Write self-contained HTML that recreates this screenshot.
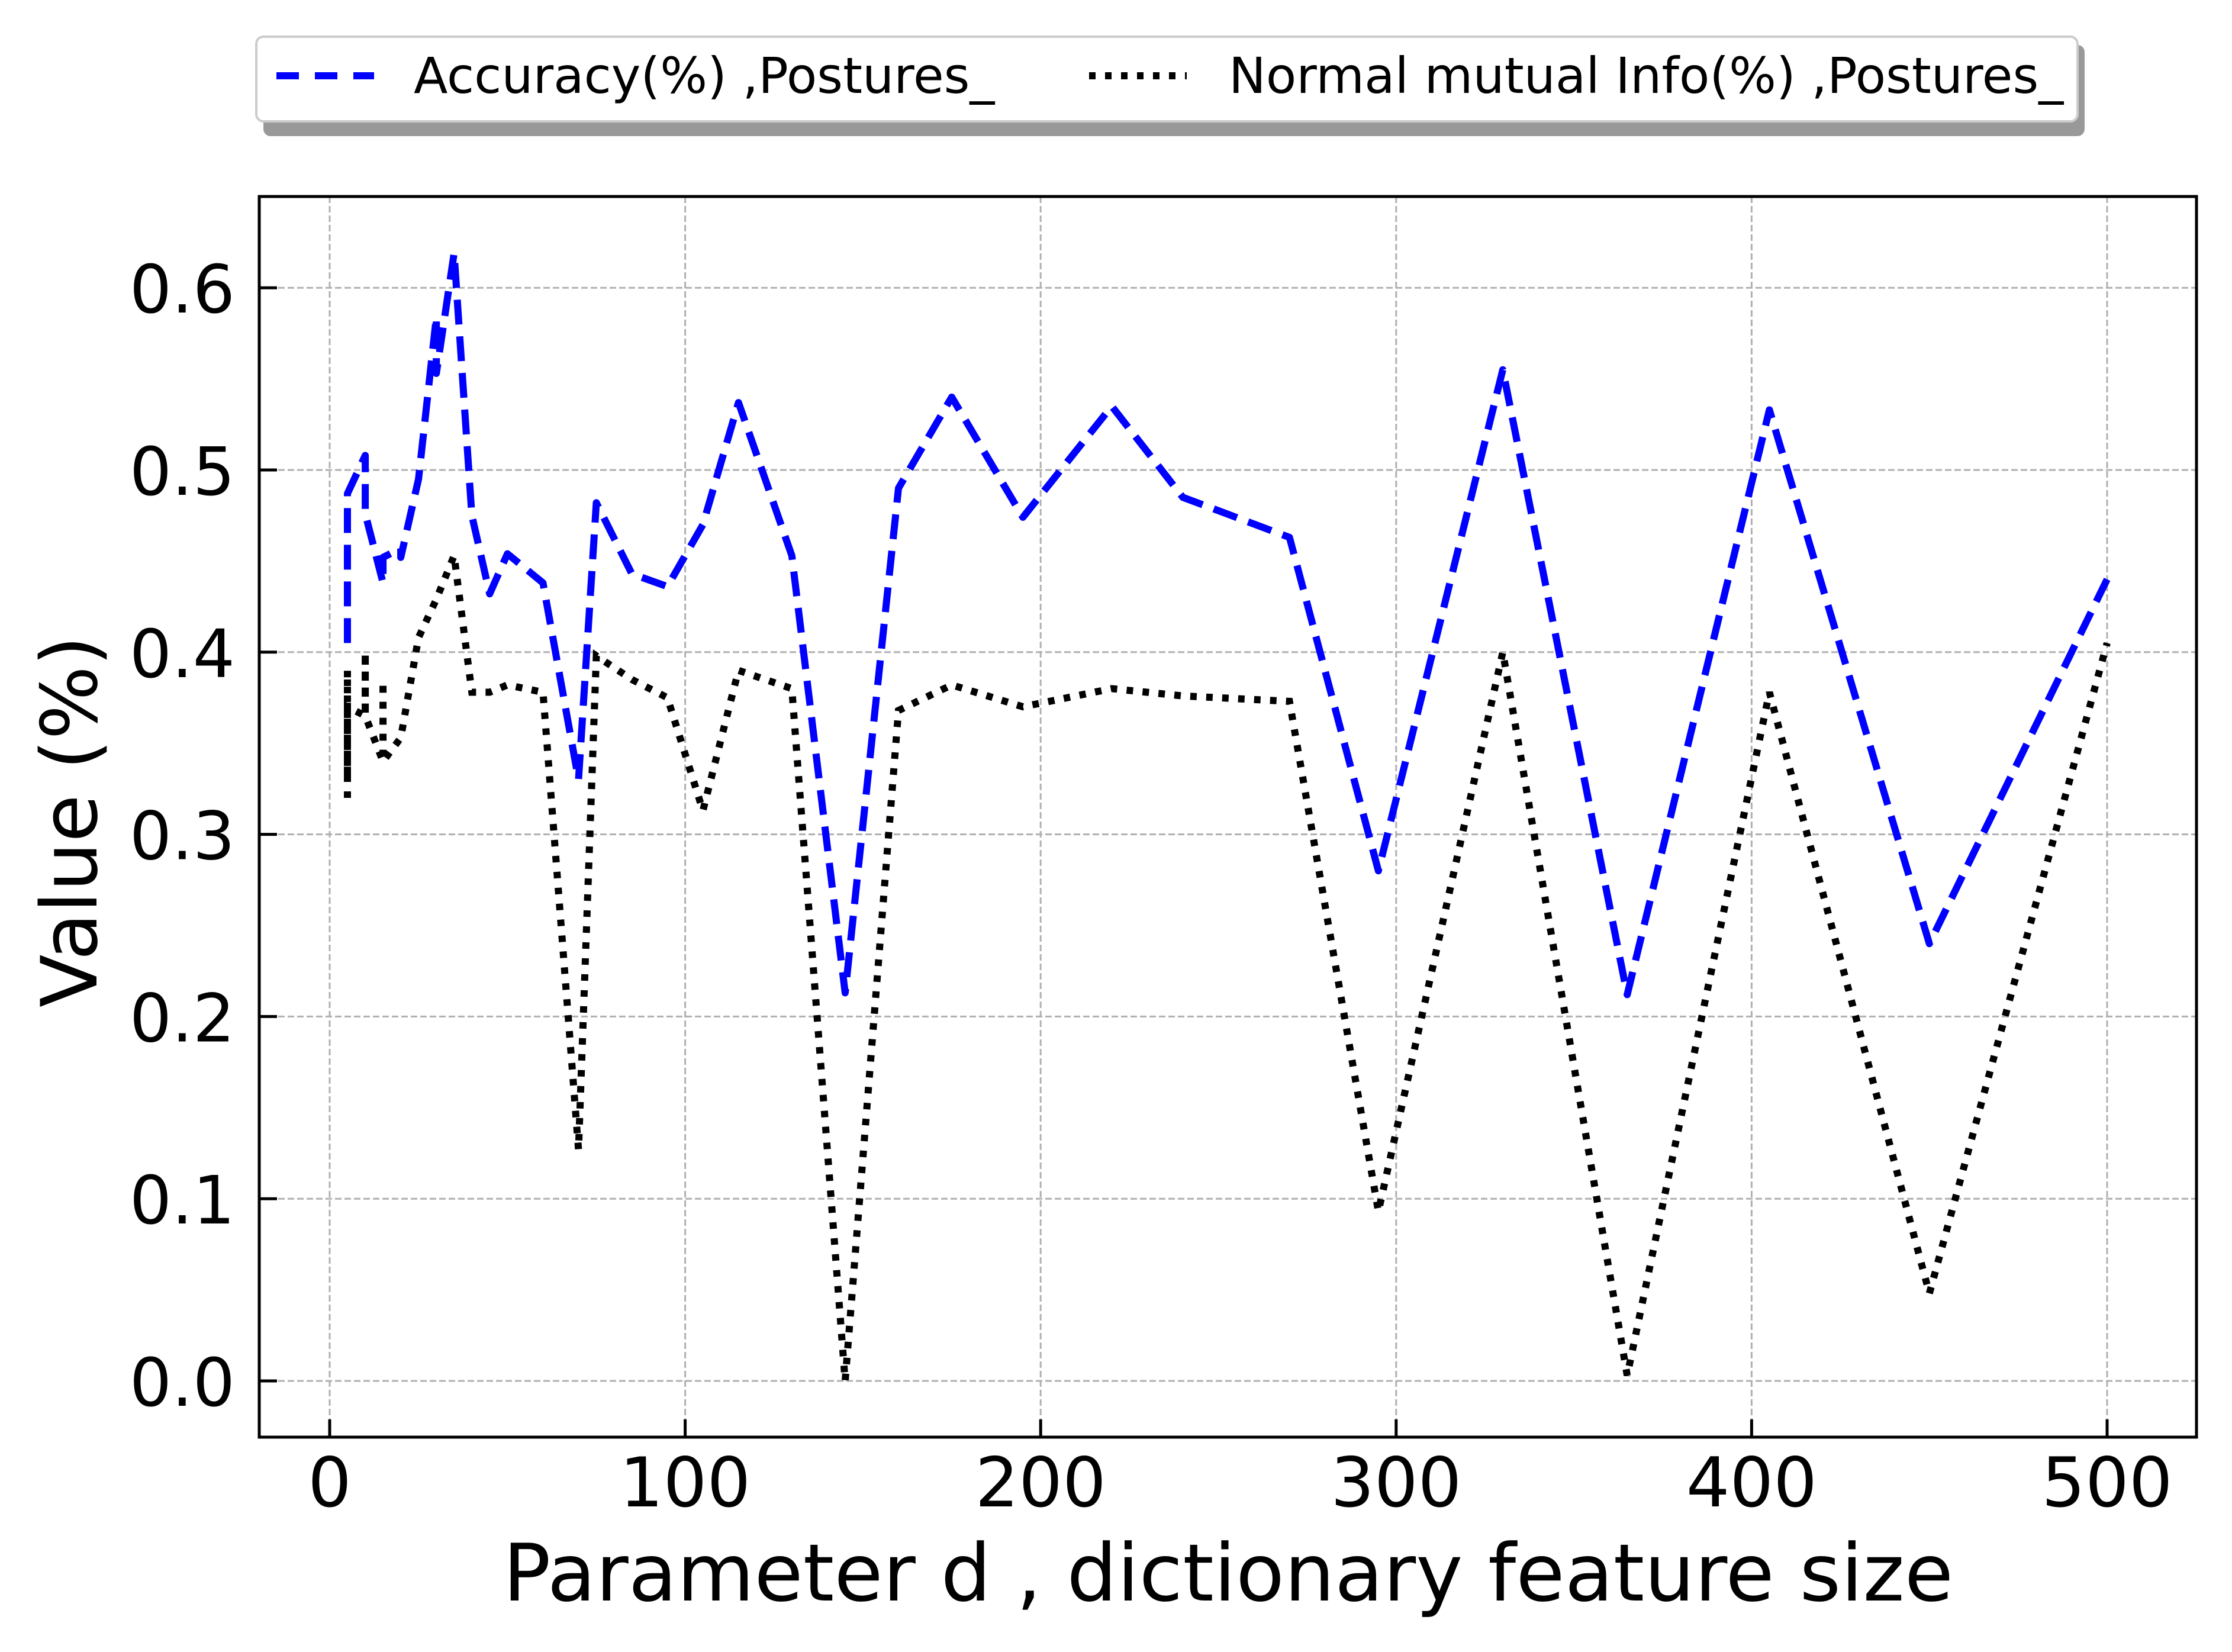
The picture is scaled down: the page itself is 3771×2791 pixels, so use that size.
<!DOCTYPE html>
<html><head><meta charset="utf-8"><style>
html,body{margin:0;padding:0;background:#fff;}
svg{display:block;font-family:"DejaVu Sans","Liberation Sans",sans-serif;}
</style></head><body>
<svg id="chart" width="3771" height="2791" viewBox="0 0 3771 2791" xmlns="http://www.w3.org/2000/svg">
<rect width="3771" height="2791" fill="#fff"/>
<g id="grid"></g>
<g id="series"></g>
<rect x="438" y="332" width="3273" height="2096" fill="none" stroke="#000" stroke-width="5"/>
<g id="ticks"></g>
<text x="2075" y="2704" font-size="134" text-anchor="middle">Parameter d , dictionary feature size</text>
<text transform="translate(163,1388) rotate(-90)" font-size="131" text-anchor="middle">Value (%)</text>
<g>
<rect x="445" y="76" width="3077" height="154" rx="12" fill="#999"/>
<rect x="433" y="62" width="3077" height="143" rx="12" fill="#fff" stroke="#ccc" stroke-width="4"/>
<line x1="467" y1="128" x2="632" y2="128" stroke="#0000ff" stroke-width="12" stroke-dasharray="38,27"/>
<text x="699" y="157" font-size="84">Accuracy(%) ,Postures_</text>
<line x1="1840" y1="128" x2="2005" y2="128" stroke="#000" stroke-width="12" stroke-dasharray="11,16"/>
<text x="2076" y="157" font-size="84">Normal mutual Info(%) ,Postures_</text>
</g>
</svg>
<script>
const accX = [5,5,10,10,15,15,20,20,25,30,30,35,40,45,50,60,70,75,85,95,105,115,130,145,160,175,195,220,240,270,295,330,365,405,450,500];
const accY = [0.405,0.487,0.508,0.476,0.438,0.452,0.457,0.452,0.495,0.584,0.553,0.619,0.475,0.432,0.454,0.438,0.33,0.482,0.443,0.436,0.47,0.537,0.453,0.213,0.49,0.54,0.474,0.535,0.485,0.463,0.28,0.555,0.212,0.533,0.24,0.44];
const nmiX = [5,5,5,5,10,10,10,15,15,15,20,25,30,35,40,45,50,60,70,75,85,95,105,115,130,145,160,175,195,220,240,270,295,330,365,405,450,500];
const nmiY = [0.32,0.39,0.33,0.37,0.365,0.40,0.365,0.34,0.384,0.34,0.353,0.408,0.429,0.453,0.378,0.378,0.382,0.378,0.127,0.398,0.385,0.375,0.313,0.39,0.38,0.0,0.368,0.382,0.37,0.38,0.376,0.373,0.093,0.40,0.003,0.378,0.048,0.405];
const xTicks = [0,100,200,300,400,500];
const yTicks = [0.0,0.1,0.2,0.3,0.4,0.5,0.6];
const yTickLabels = ["0.0","0.1","0.2","0.3","0.4","0.5","0.6"];

const NS = "http://www.w3.org/2000/svg";
const L = 438, R = 3711, T = 332, B = 2428;
function sx(v){ return 557 + v * 6.006; }
function sy(v){ return 2333 - v * 3078; }
function mk(tag, attrs, parent){
  const e = document.createElementNS(NS, tag);
  for (const k in attrs) e.setAttribute(k, attrs[k]);
  parent.appendChild(e); return e;
}
const grid = document.getElementById('grid');
const ticks = document.getElementById('ticks');
const series = document.getElementById('series');

xTicks.forEach((t) => {
  const g = mk('line', {x1:sx(t), x2:sx(t), y1:T, y2:B, stroke:'#b0b0b0', 'stroke-width':3, 'stroke-dasharray':'11,5'}, grid);
  
  
  const tk = mk('line', {x1:sx(t), x2:sx(t), y1:B, y2:B-30, stroke:'#000', 'stroke-width':5}, ticks);
  
  
  const tx = mk('text', {x:sx(t), y:2545, 'font-size':116, 'text-anchor':'middle'}, ticks);
  tx.textContent = String(t);
  
  
});
yTicks.forEach((t, i) => {
  const g = mk('line', {x1:L, x2:R, y1:sy(t), y2:sy(t), stroke:'#b0b0b0', 'stroke-width':3, 'stroke-dasharray':'11,5'}, grid);
  
  
  const tk = mk('line', {x1:L, x2:L+30, y1:sy(t), y2:sy(t), stroke:'#000', 'stroke-width':5}, ticks);
  
  
  const tx = mk('text', {x:397, y:sy(t)+42, 'font-size':112, 'text-anchor':'end'}, ticks);
  tx.textContent = yTickLabels[i];
  
  
});
function pts(xs, ys){ return xs.map((x,i)=>sx(x).toFixed(1)+','+sy(ys[i]).toFixed(1)).join(' '); }
const nmi = mk('polyline', {points:pts(nmiX,nmiY), fill:'none', stroke:'#000', 'stroke-width':12, 'stroke-dasharray':'11,16'}, series);


const acc = mk('polyline', {points:pts(accX,accY), fill:'none', stroke:'#0000ff', 'stroke-width':12, 'stroke-dasharray':'42,20', 'stroke-linejoin':'round'}, series);


</script>
</body></html>
